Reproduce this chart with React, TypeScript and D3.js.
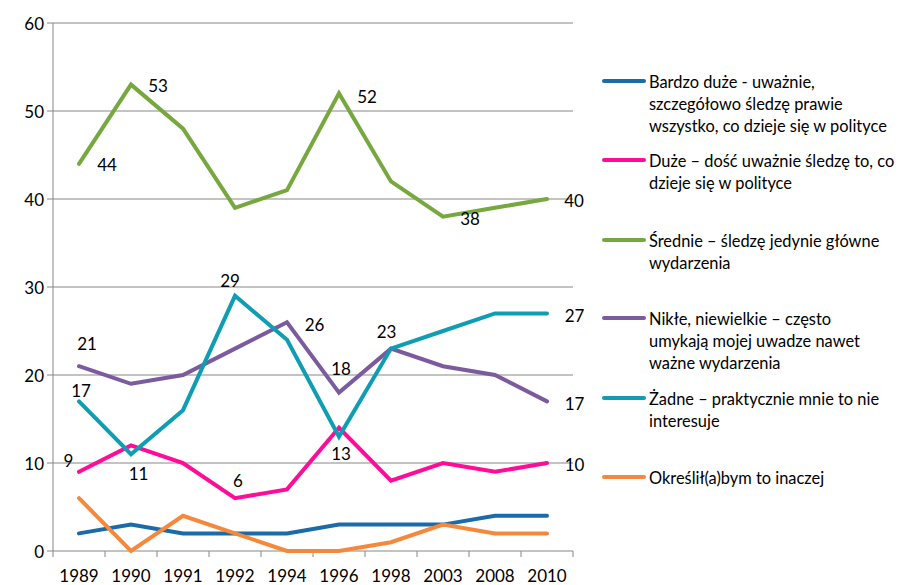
import React from "react";
import * as d3 from "d3";

const years = ["1989", "1990", "1991", "1992", "1994", "1996", "1998", "2003", "2008", "2010"];
const yTicks = [0, 10, 20, 30, 40, 50, 60];

const seriesNames = [
  "Bardzo duże - uważnie, szczegółowo śledzę prawie wszystko, co dzieje się w polityce",
  "Duże – dość uważnie śledzę to, co dzieje się w polityce",
  "Średnie – śledzę jedynie główne wydarzenia",
  "Nikłe, niewielkie – często umykają mojej uwadze nawet ważne wydarzenia",
  "Żadne – praktycznie mnie to nie interesuje",
  "Określił(a)bym to inaczej",
];
const bardzoDuze = [2, 3, 2, 2, 2, 3, 3, 3, 4, 4];
const duze = [9, 12, 10, 6, 7, 14, 8, 10, 9, 10];
const srednie = [44, 53, 48, 39, 41, 52, 42, 38, 39, 40];
const nikle = [21, 19, 20, 23, 26, 18, 23, 21, 20, 17];
const zadne = [17, 11, 16, 29, 24, 13, 23, 25, 27, 27];
const inaczej = [6, 0, 4, 2, 0, 0, 1, 3, 2, 2];

// labelled points: [series index, year index]
const labelledPoints: [number, number][] = [
  [2, 0], [2, 1], [2, 5], [2, 7], [2, 9],
  [4, 3], [3, 0], [4, 0], [1, 0], [4, 1], [1, 3],
  [3, 4], [3, 6], [3, 5], [4, 5], [4, 9], [3, 9], [1, 9],
];

// layout (not data): label offsets, legend line breaks
const labelOffsets: [number, number][] = [
  [28, 1], [27, 1], [28, 2.6], [27, 1.5], [27, 1],
  [-5, -15], [8, -23], [2, -11], [-10.5, -11], [7.5, 19], [3, -18],
  [27.5, 2], [-4.5, -17], [2, -24], [2, 17], [27.5, 1.6], [27.5, 1.6], [27.5, 1],
];
const legendLines = [
  ["Bardzo duże - uważnie,", "szczegółowo śledzę prawie", "wszystko, co dzieje się w polityce"],
  ["Duże – dość uważnie śledzę to, co", "dzieje się w polityce"],
  ["Średnie – śledzę jedynie główne", "wydarzenia"],
  ["Nikłe, niewielkie – często", "umykają mojej uwadze nawet", "ważne wydarzenia"],
  ["Żadne – praktycznie mnie to nie", "interesuje"],
  ["Określił(a)bym to inaczej"],
];
const legendY = [81, 160, 240, 318, 398, 477];
const colors = ["#1B6BAA", "#FF0C99", "#77A83F", "#7B5A9E", "#0F9DB4", "#F5883A"];

const allSeries = [bardzoDuze, duze, srednie, nikle, zadne, inaczej];

export default function App() {
  const left = 53, right = 573, top = 23, bottom = 551;
  const x = d3.scaleBand<string>().domain(years).range([left, right]);
  const y = d3.scaleLinear().domain([0, 60]).range([bottom, top]);
  const cx = (i: number) => (x(years[i]) as number) + x.bandwidth() / 2;
  const line = d3.line<number>().x((_, i) => cx(i)).y((d) => y(d));
  const font = "Lato, 'Open Sans', sans-serif";
  const fs = 17;
  const gray = "#878787";

  return (
    <svg
      width={905}
      height={585}
      style={{ display: "block", position: "absolute", left: 0, top: 0, overflow: "visible" }}
      fontFamily={font}
    >
      {yTicks.map((t) => (
        <g key={t}>
          <line x1={left} x2={right} y1={y(t)} y2={y(t)} stroke={gray} strokeWidth={1} />
          <line x1={left - 6} x2={left} y1={y(t)} y2={y(t)} stroke={gray} strokeWidth={1} />
          <text x={left - 9} y={y(t)} textAnchor="end" dominantBaseline="central" fontSize={fs} fill="#000">
            {t}
          </text>
        </g>
      ))}
      <line x1={left} x2={left} y1={top} y2={bottom} stroke={gray} strokeWidth={1} />
      {years.map((yr, i) => (
        <g key={yr}>
          <line x1={x(yr) as number} x2={x(yr) as number} y1={bottom} y2={bottom + 6} stroke={gray} />
          <text x={cx(i)} y={bottom + 24} textAnchor="middle" dominantBaseline="central" fontSize={fs} fill="#000">
            {yr}
          </text>
        </g>
      ))}
      <line x1={right} x2={right} y1={bottom} y2={bottom + 6} stroke={gray} />
      {allSeries.map((s, k) => (
        <path key={k} d={line(s) as string} fill="none" stroke={colors[k]} strokeWidth={4} strokeLinejoin="miter" strokeLinecap="round" />
      ))}
      {labelledPoints.map(([k, i], j) => (
        <text
          key={j}
          x={cx(i) + labelOffsets[j][0]}
          y={y(allSeries[k][i]) + labelOffsets[j][1]}
          textAnchor="middle"
          dominantBaseline="central"
          fontSize={fs}
          fill="#000"
        >
          {allSeries[k][i]}
        </text>
      ))}
      {seriesNames.map((name, k) => (
        <g key={name}>
          <line x1={604} x2={644} y1={legendY[k]} y2={legendY[k]} stroke={colors[k]} strokeWidth={4} strokeLinecap="round" />
          {legendLines[k].map((ln, j) => (
            <text key={j} x={649} y={legendY[k] + j * 22} dominantBaseline="central" fontSize={16.4} fill="#000">
              {ln}
            </text>
          ))}
        </g>
      ))}
    </svg>
  );
}
